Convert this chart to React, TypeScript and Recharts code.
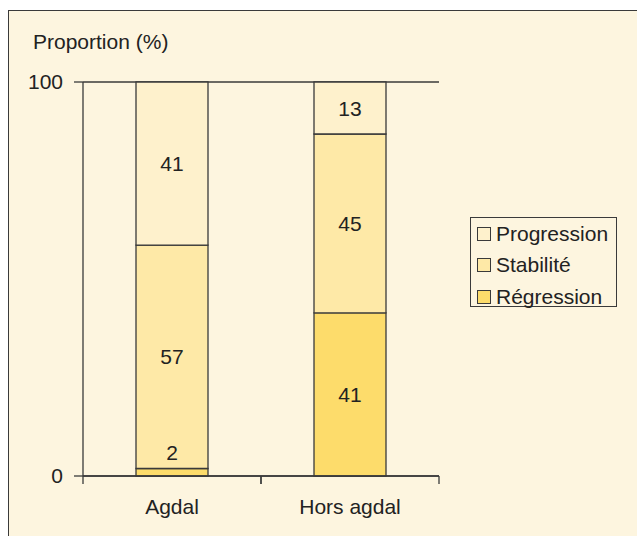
import React from 'react';
import { BarChart, Bar, XAxis, YAxis, CartesianGrid, LabelList, Legend } from 'recharts';

const categories = ['Agdal', 'Hors agdal'];
const regression = [1.9, 41.4];
const stabilite = [56.7, 45.4];
const progression = [41.4, 13.2];
const yTicks = [0, 100];
const legendOrder = ['Progression', 'Stabilité', 'Régression'];

const data = categories.map((c, i) => ({
  name: c,
  regression: regression[i],
  stabilite: stabilite[i],
  progression: progression[i],
}));

const FONT = '"Liberation Sans", Arial, Helvetica, sans-serif';
const FS = 21;
const BG = '#FDF5DF';
const DARK = '#3a3a3a';
const COLORS = { progression: '#FEF1CC', stabilite: '#FEE9A7', regression: '#FDDC6B' };

const CHART_W = 628;
const CHART_H = 525;
const PLOT_LEFT = 74;
const PLOT_TOP = 71;
const PLOT_W = 356;
const PLOT_H = 394;
const HALF_BAND = PLOT_W / categories.length / 2;

const XTick = (props: any) => {
  const { x, y, payload } = props;
  return (
    <g>
      <line x1={x - HALF_BAND} x2={x - HALF_BAND} y1={y - 8} y2={y} stroke={DARK} strokeWidth={1.3} />
      <line x1={x + HALF_BAND} x2={x + HALF_BAND} y1={y - 8} y2={y} stroke={DARK} strokeWidth={1.3} />
      <text x={x} y={y + 30} textAnchor="middle" fontFamily={FONT} fontSize={FS} fill="#222">
        {payload.value}
      </text>
    </g>
  );
};

const SegLabel = (props: any) => {
  const { x, y, width, height, value } = props;
  const cx = x + width / 2;
  const small = height < 20;
  const cy = small ? y - 16 : y + height / 2;
  return (
    <text x={cx} y={cy} dy={7.5} textAnchor="middle" fontFamily={FONT} fontSize={FS} fill="#222">
      {Math.round(value)}
    </text>
  );
};

const LegendContent = (props: any) => {
  const items = [...(props.payload || [])].sort(
    (a: any, b: any) => legendOrder.indexOf(a.value) - legendOrder.indexOf(b.value)
  );
  return (
    <div
      style={{
        position: 'absolute',
        left: 461,
        top: 206,
        width: 147,
        height: 90,
        border: `1.5px solid ${DARK}`,
        fontFamily: FONT,
        fontSize: FS,
        color: '#222',
        boxSizing: 'border-box',
        paddingTop: 0,
        textAlign: 'left',
      }}
    >
      {items.map((it: any) => (
        <div key={it.value} style={{ display: 'flex', alignItems: 'center', height: 31.5, paddingLeft: 6, whiteSpace: 'nowrap' }}>
          <span
            style={{
              display: 'inline-block',
              width: 12,
              height: 12,
              background: it.color,
              border: `1.3px solid ${DARK}`,
              marginRight: 5,
              flex: 'none',
            }}
          />
          <span>{it.value}</span>
        </div>
      ))}
    </div>
  );
};

export default function App() {
  return (
    <div
      style={{
        position: 'absolute',
        left: 8,
        top: 10,
        width: 629,
        height: 526,
        background: BG,
        borderLeft: `1.5px solid ${DARK}`,
        borderTop: `1.5px solid ${DARK}`,
      }}
    >
      <div
        style={{
          position: 'absolute',
          left: 24,
          top: 19,
          fontFamily: FONT,
          fontSize: FS,
          color: '#222',
          whiteSpace: 'nowrap',
        }}
      >
        Proportion (%)
      </div>
      <div style={{ position: 'absolute', left: 0, top: 0 }}>
        <BarChart
          width={CHART_W}
          height={CHART_H}
          data={data}
          margin={{ top: PLOT_TOP, right: CHART_W - PLOT_LEFT - PLOT_W, left: PLOT_LEFT - 60, bottom: CHART_H - PLOT_TOP - PLOT_H - 50 }}
          barSize={72}
        >
          <CartesianGrid vertical={false} stroke={DARK} strokeWidth={1.3} />
          <XAxis
            dataKey="name"
            height={50}
            tickLine={false}
            tickSize={8}
            tickMargin={0}
            axisLine={{ stroke: DARK, strokeWidth: 1.3 }}
            tick={<XTick />}
            interval={0}
          />
          <YAxis
            yAxisId="left"
            width={60}
            domain={[0, 100]}
            ticks={yTicks}
            tickSize={9}
            tickMargin={11}
            axisLine={{ stroke: DARK, strokeWidth: 1.3 }}
            tickLine={{ stroke: DARK, strokeWidth: 1.3 }}
            tick={{ fontFamily: FONT, fontSize: FS, fill: '#222' }}
          />
          <YAxis
            yAxisId="right"
            orientation="right"
            width={0}
            domain={[0, 100]}
            tick={false}
            tickLine={false}
            axisLine={{ stroke: '#666', strokeWidth: 2 }}
          />
          <Legend
            content={<LegendContent />}
            wrapperStyle={{ position: 'absolute', left: 0, top: 0, width: 0, height: 0, bottom: 'auto' }}
          />
          <Bar yAxisId="left" dataKey="regression" name="Régression" stackId="a" fill={COLORS.regression} stroke={DARK} strokeWidth={1.3} isAnimationActive={false}>
            <LabelList dataKey="regression" content={<SegLabel />} />
          </Bar>
          <Bar yAxisId="left" dataKey="stabilite" name="Stabilité" stackId="a" fill={COLORS.stabilite} stroke={DARK} strokeWidth={1.3} isAnimationActive={false}>
            <LabelList dataKey="stabilite" content={<SegLabel />} />
          </Bar>
          <Bar yAxisId="left" dataKey="progression" name="Progression" stackId="a" fill={COLORS.progression} stroke={DARK} strokeWidth={1.3} isAnimationActive={false}>
            <LabelList dataKey="progression" content={<SegLabel />} />
          </Bar>
        </BarChart>
      </div>
    </div>
  );
}
